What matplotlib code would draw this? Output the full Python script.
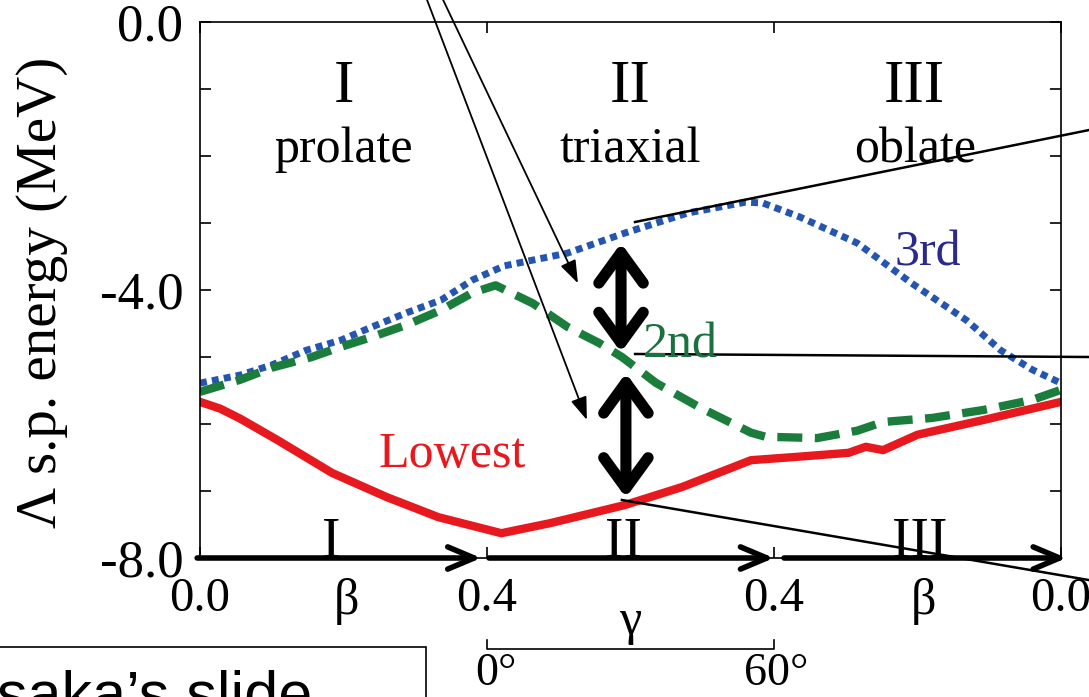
import matplotlib.pyplot as plt
from matplotlib.patches import Rectangle

# path coordinate: 0-1 beta 0->0.4 (prolate), 1-2 gamma 0->60 deg, 2-3 beta 0.4->0 (oblate)
x_low = [0.0, 0.07, 0.14, 0.27, 0.46, 0.65, 0.83, 1.05, 1.22, 1.48, 1.68, 1.92, 2.08,
         2.26, 2.32, 2.38, 2.50, 2.73, 3.0]
e_low = [-5.67, -5.77, -5.92, -6.24, -6.73, -7.09, -7.39, -7.63, -7.48, -7.21, -6.94, -6.54, -6.49,
         -6.43, -6.34, -6.39, -6.16, -5.94, -5.67]

x_2nd = [0.0, 0.14, 0.25, 0.39, 0.49, 0.60, 0.72, 0.84, 0.95, 1.03, 1.16, 1.28, 1.39,
         1.47, 1.59, 1.74, 1.92, 1.97, 2.15, 2.29, 2.38, 2.55, 2.73, 2.90, 3.0]
e_2nd = [-5.52, -5.34, -5.16, -5.00, -4.85, -4.70, -4.52, -4.30, -4.04, -3.93, -4.20, -4.55, -4.79,
         -5.00, -5.39, -5.75, -6.13, -6.19, -6.21, -6.10, -5.97, -5.91, -5.79, -5.64, -5.49]

x_3rd = [0.0, 0.14, 0.25, 0.37, 0.49, 0.60, 0.72, 0.84, 0.95, 1.06, 1.28, 1.48, 1.70,
         1.90, 1.96, 2.09, 2.29, 2.48, 2.67, 2.79, 2.90, 3.0]
e_3rd = [-5.39, -5.27, -5.12, -4.90, -4.75, -4.55, -4.34, -4.15, -3.85, -3.64, -3.45, -3.15, -2.85,
         -2.69, -2.70, -2.91, -3.30, -3.90, -4.45, -4.90, -5.19, -5.39]

xtick_pos = [0, 1, 2, 3]
xtick_lab = ['0.0', '0.4', '0.4', '0.0']
ytick_pos = [-8, -7, -6, -5, -4, -3, -2, -1, 0]
ytick_lab = ['-8.0', '', '', '', '-4.0', '', '', '', '0.0']

regions = ['I', 'II', 'III']
shapes = ['prolate', 'triaxial', 'oblate']

plt.rcParams['font.family'] = ['Liberation Serif', 'DejaVu Serif']

fig = plt.figure(figsize=(10.89, 6.97), dpi=100)
ax = fig.add_axes([200/1089, 1-558/697, 861/1089, 536/697])

ax.plot(x_3rd, e_3rd, color='#2456b0', lw=5, linestyle=(0, (1, 0.75)))
ax.plot(x_2nd, e_2nd, color='#1b7d3c', lw=6, linestyle=(0, (3.0, 1.5)))
ax.plot(x_low, e_low, color='#e8191e', lw=6, solid_capstyle='round', solid_joinstyle='round')

ax.set_xlim(0, 3)
ax.set_ylim(-8, 0)
ax.set_xticks(xtick_pos)
ax.set_xticklabels(xtick_lab)
ax.set_yticks(ytick_pos)
ax.set_yticklabels(ytick_lab)
ax.tick_params(direction='in', top=True, right=True, length=8, width=1.2)
ax.tick_params(axis='x', pad=14, labelsize=35)
ax.tick_params(axis='y', pad=12, labelsize=38)
for s in ax.spines.values():
    s.set_linewidth(1.2)

fig.text(42/1089, 1-292/697, 'Λ s.p. energy (MeV)', rotation=90, ha='center', va='center', fontsize=41)

# region labels
for xc, r, s in zip([0.50, 1.50, 2.49], regions, shapes):
    ax.text(xc, -1.19, r, ha='center', va='baseline', fontsize=44)
    ax.text(xc, -2.09, s, ha='center', va='baseline', fontsize=36)

ax.text(0.878, -6.64, 'Lowest', color='#e8191e', ha='center', va='baseline', fontsize=36)
ax.text(1.672, -5.0, '2nd', color='#1b7040', ha='center', va='baseline', fontsize=36)
ax.text(2.537, -3.63, '3rd', color='#2a2a8c', ha='center', va='baseline', fontsize=36)

# thick double arrows (energy gaps)
big = dict(arrowstyle='<->,head_length=1.1,head_width=0.8', lw=8, color='k',
           shrinkA=0, shrinkB=0, mutation_scale=20, capstyle='round', joinstyle='round')
ax.annotate('', xy=(1.467, -4.93), xytext=(1.467, -3.30), arrowprops=big)
ax.annotate('', xy=(1.484, -7.10), xytext=(1.484, -5.24), arrowprops=big)

# thin pointers from above
thin = dict(arrowstyle='-|>,head_length=0.7,head_width=0.25', lw=1.3, color='k',
            shrinkA=0, shrinkB=0, mutation_scale=20)
ax.annotate('', xy=(1.348, -5.94), xytext=(0.791, 0.33), arrowprops=thin, annotation_clip=False)
ax.annotate('', xy=(1.317, -3.90), xytext=(0.847, 0.33), arrowprops=thin, annotation_clip=False)

# leader lines to the right
ax.plot([1.516, 3.098], [-2.985, -1.612], color='k', lw=1.8, clip_on=False)
ax.plot([1.516, 3.098], [-4.955, -5.0], color='k', lw=1.8, clip_on=False)
ax.plot([1.470, 3.098], [-7.134, -8.33], color='k', lw=1.8, clip_on=False)

# path arrows along the bottom axis
ax_arrow = dict(arrowstyle='->,head_length=0.95,head_width=0.4', lw=4, color='k',
                shrinkA=0, shrinkB=0, mutation_scale=20)
for x0, x1 in [(-0.01, 0.98), (1.007, 2.0), (2.035, 3.02)]:
    ax.annotate('', xy=(x1, -8), xytext=(x0, -8), arrowprops=ax_arrow, annotation_clip=False)

for xc, r in zip([0.456, 1.477, 2.509], regions):
    ax.text(xc, -7.985, r, ha='center', va='baseline', fontsize=40)

ax.text(0.509, -8.84, 'β', ha='center', va='baseline', fontsize=36)
ax.text(2.52, -8.84, 'β', ha='center', va='baseline', fontsize=36)
ax.text(1.50, -9.13, 'γ', ha='center', va='baseline', fontsize=36)
ax.plot([1.0, 1.0, 2.0, 2.0], [-9.22, -9.36, -9.36, -9.22], color='k', lw=1.2, clip_on=False)
ax.text(1.03, -9.9, '0°', ha='center', va='baseline', fontsize=33)
ax.text(2.007, -9.9, '60°', ha='center', va='baseline', fontsize=33)

# slide credit box, cut by the frame
fig.add_artist(Rectangle((-0.01, -0.03), 437/1089, 1-647/697+0.03, transform=fig.transFigure,
                         fill=False, lw=1.2, ec='k'))
fig.text(312/1089, 1-713/697, 'Isaka’s slide', ha='right', va='baseline', fontsize=44,
         family='Liberation Sans')

fig.savefig('out.png', dpi=100)
